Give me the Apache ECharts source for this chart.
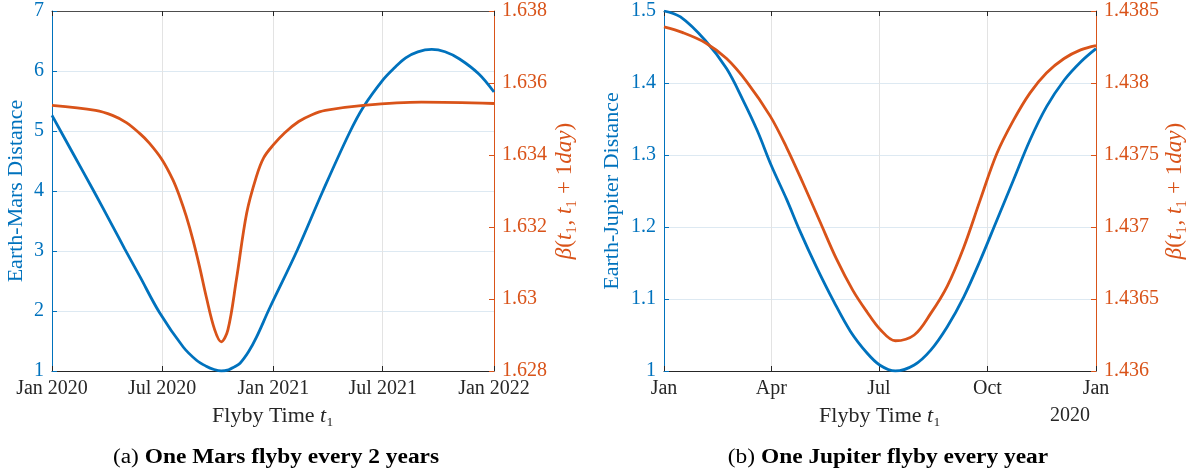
<!DOCTYPE html>
<html>
<head>
<meta charset="utf-8">
<script src="https://cdn.jsdelivr.net/npm/echarts@6/dist/echarts.min.js"></script>
<style>
html,body{margin:0;padding:0;background:#fff;}
#main{width:1196px;height:472px;}
</style>
</head>
<body>
<div id="main"></div>
<script>
// Mars panel (a)
var marsDistDates = ['2020-01-01','2020-02-05','2020-03-10','2020-04-10','2020-04-30','2020-05-25','2020-06-27','2020-08-05','2020-08-27','2020-09-12','2020-09-25','2020-10-07','2020-10-19','2020-10-28','2020-11-07','2020-11-21','2020-12-04','2020-12-26','2021-02-09','2021-03-24','2021-05-06','2021-05-30','2021-07-02','2021-07-20','2021-08-08','2021-08-28','2021-09-20','2021-10-12','2021-11-05','2021-12-07','2022-01-01'];
var marsDist = [5.26,4.62,4.0,3.42,3.04,2.58,1.97,1.40,1.18,1.08,1.025,1.0,1.02,1.065,1.13,1.32,1.56,2.05,3.0,4.0,4.95,5.40,5.86,6.05,6.22,6.32,6.36,6.32,6.2,5.95,5.65];
var marsBetaDates = ['2020-01-01','2020-03-13','2020-04-10','2020-05-03','2020-05-25','2020-06-10','2020-07-01','2020-07-19','2020-07-30','2020-08-10','2020-08-21','2020-09-01','2020-09-12','2020-09-26','2020-10-07','2020-10-18','2020-11-01','2020-11-18','2020-12-04','2020-12-16','2021-01-01','2021-01-20','2021-02-12','2021-03-06','2021-03-28','2021-05-30','2021-09-03','2022-01-01'];
var marsBeta = [1.63538,1.63524,1.6351,1.6349,1.6346,1.63433,1.63387,1.63331,1.63285,1.6323,1.63165,1.6309,1.63007,1.62915,1.62881,1.62915,1.63054,1.63239,1.6334,1.63392,1.63428,1.63462,1.63493,1.63512,1.63524,1.63538,1.63547,1.63543];
var marsTicks = ['2020-01-01','2020-07-01','2021-01-01','2021-07-01','2022-01-01'];

// Jupiter panel (b)
var jupDates = ['2020-01-01','2020-01-15','2020-02-05','2020-02-23','2020-03-08','2020-03-20','2020-04-01','2020-04-14','2020-04-25','2020-05-09','2020-05-24','2020-06-07','2020-06-21','2020-07-02','2020-07-15','2020-07-31','2020-08-14','2020-08-28','2020-09-11','2020-09-25','2020-10-09','2020-10-23','2020-11-06','2020-11-20','2020-12-05','2020-12-19','2021-01-01'];
var jupDist = [1.5,1.4917,1.459,1.42,1.376,1.334,1.285,1.238,1.195,1.145,1.096,1.055,1.025,1.008,1.0,1.0083,1.029,1.0615,1.103,1.154,1.2095,1.265,1.3205,1.3668,1.4038,1.4292,1.4477];
var jupBetaDates = ['2020-01-01','2020-01-17','2020-02-05','2020-02-23','2020-03-11','2020-03-31','2020-04-14','2020-04-28','2020-05-12','2020-05-26','2020-06-09','2020-06-21','2020-07-02','2020-07-15','2020-07-31','2020-08-14','2020-08-28','2020-09-11','2020-09-25','2020-10-09','2020-10-23','2020-11-06','2020-11-20','2020-12-05','2020-12-19','2021-01-01'];
var jupBeta = [1.43839,1.43835,1.43828,1.43817,1.43801,1.43777,1.43755,1.4373,1.43704,1.43678,1.43656,1.43641,1.43629,1.43621,1.43625,1.4364,1.43659,1.43686,1.43719,1.43751,1.43774,1.43793,1.43807,1.43817,1.43823,1.43826];
var jupTicks = ['2020-01-01','2020-04-01','2020-07-01','2020-10-01','2021-01-01'];

var monthNames = ['Jan','Feb','Mar','Apr','May','Jun','Jul','Aug','Sep','Oct','Nov','Dec'];
var blue = '#0072BD', orange = '#D95319', dark = '#262626';
var font = 'Liberation Serif';
var tickSize = 20, nameSize = 22, betaSize = 23;

function ts(s){ return echarts.time.parse(s).getTime(); }
function pairs(dates, vals){ return dates.map(function(d,i){ return [ts(d), vals[i]]; }); }
function num(v){ return String(+v.toFixed(4)); }

var betaName = '{i|β}{n|(}{i|t}{n|₁, }{i|t}{n|₁ + 1}{i|day}{n|)}';
var betaRich = {
	i:{fontStyle:'italic', fontFamily:font, fontSize:betaSize, color:orange},
	n:{fontFamily:font, fontSize:betaSize, color:orange}
};
var xName = 'Flyby Time {i|t}{n|₁}';
var xRich = {
	i:{fontStyle:'italic', fontFamily:font, fontSize:nameSize, color:dark},
	n:{fontFamily:font, fontSize:nameSize, color:dark}
};

// x axis is a plain value axis holding timestamps, ticks placed on month starts
function xAxes(gi, ticks, fmt){
	var ticksTs = ticks.map(ts);
	return [{
		gridIndex:gi, type:'value', position:'bottom',
		min:ticksTs[0], max:ticksTs[ticksTs.length-1],
		axisLine:{lineStyle:{color:dark, width:1}},
		axisTick:{inside:true, length:5, customValues:ticksTs, lineStyle:{color:dark}},
		axisLabel:{customValues:ticksTs, formatter:fmt, color:dark, fontFamily:font, fontSize:tickSize, margin:8, hideOverlap:false},
		splitLine:{show:true, lineStyle:{color:'#e3e3e3', width:1}},
		name:xName, nameLocation:'middle', nameGap:34,
		nameTextStyle:{rich:xRich, fontFamily:font, fontSize:nameSize, color:dark}
	},{
		gridIndex:gi, type:'value', position:'top',
		min:ticksTs[0], max:ticksTs[ticksTs.length-1],
		axisLine:{lineStyle:{color:'#4d4d4d', width:1}},
		axisTick:{inside:true, length:5, customValues:ticksTs, lineStyle:{color:dark}},
		axisLabel:{show:false}, splitLine:{show:false}
	}];
}

function yLeft(gi, min, max, step, name, gap){
	return {
		gridIndex:gi, type:'value', position:'left', min:min, max:max, interval:step,
		axisLine:{show:true, lineStyle:{color:blue}},
		axisTick:{show:true, inside:true, length:5, lineStyle:{color:blue}},
		axisLabel:{color:blue, fontFamily:font, fontSize:tickSize, margin:8, formatter:num},
		splitLine:{show:true, lineStyle:{color:'#dde9f2', width:1}},
		name:name, nameLocation:'middle', nameRotate:90, nameGap:gap,
		nameTextStyle:{color:blue, fontFamily:font, fontSize:nameSize}
	};
}

function yRight(gi, min, max, step, gap){
	return {
		gridIndex:gi, type:'value', position:'right', min:min, max:max, interval:step,
		axisLine:{show:true, lineStyle:{color:orange}},
		axisTick:{show:true, inside:true, length:5, lineStyle:{color:orange}},
		axisLabel:{color:orange, fontFamily:font, fontSize:tickSize, margin:8, formatter:num},
		splitLine:{show:false},
		name:betaName, nameLocation:'middle', nameRotate:90, nameGap:gap,
		nameTextStyle:{rich:betaRich, color:orange, fontFamily:font, fontSize:betaSize}
	};
}

function line(xi, yi, data, color){
	return {
		type:'line', xAxisIndex:xi, yAxisIndex:yi, data:data,
		smooth:0.35, showSymbol:false, silent:true,
		lineStyle:{color:color, width:2.8}
	};
}

function caption(x, tag, text){
	return {type:'text', x:x, y:458, scaleX:1.17, style:{
		text:tag + ' {b|' + text + '}', fill:'#000', font:'20px "' + font + '"',
		align:'center', verticalAlign:'middle',
		rich:{b:{fontWeight:'bold', fontFamily:font, fontSize:20, fill:'#000'}}
	}};
}

var marsFmt = function(v){ var d = new Date(v); return monthNames[d.getMonth()] + ' ' + d.getFullYear(); };
var jupFmt = function(v){ var d = new Date(v); return monthNames[d.getMonth()]; };

var chart = echarts.init(document.getElementById('main'), null, {renderer:'canvas'});
chart.setOption({
	animation:false,
	backgroundColor:'#fff',
	grid:[
		{left:52, top:11, width:442, height:360},
		{left:664, top:11, width:432, height:360}
	],
	xAxis:[].concat(xAxes(0, marsTicks, marsFmt), xAxes(1, jupTicks, jupFmt)),
	yAxis:[
		yLeft(0, 1, 7, 1, 'Earth-Mars Distance', 25),
		yRight(0, 1.628, 1.638, 0.002, 59),
		yLeft(1, 1, 1.5, 0.1, 'Earth-Jupiter Distance', 41),
		yRight(1, 1.436, 1.4385, 0.0005, 67)
	],
	series:[
		line(0, 0, pairs(marsDistDates, marsDist), blue),
		line(0, 1, pairs(marsBetaDates, marsBeta), orange),
		line(2, 2, pairs(jupDates, jupDist), blue),
		line(2, 3, pairs(jupBetaDates, jupBeta), orange)
	],
	graphic:[
		{type:'text', x:1070, y:416, style:{text:'2020', fill:dark, font:tickSize + 'px "' + font + '"', align:'center', verticalAlign:'middle'}},
		caption(276, '(a)', 'One Mars flyby every 2 years'),
		caption(888, '(b)', 'One Jupiter flyby every year')
	]
});
</script>
</body>
</html>
